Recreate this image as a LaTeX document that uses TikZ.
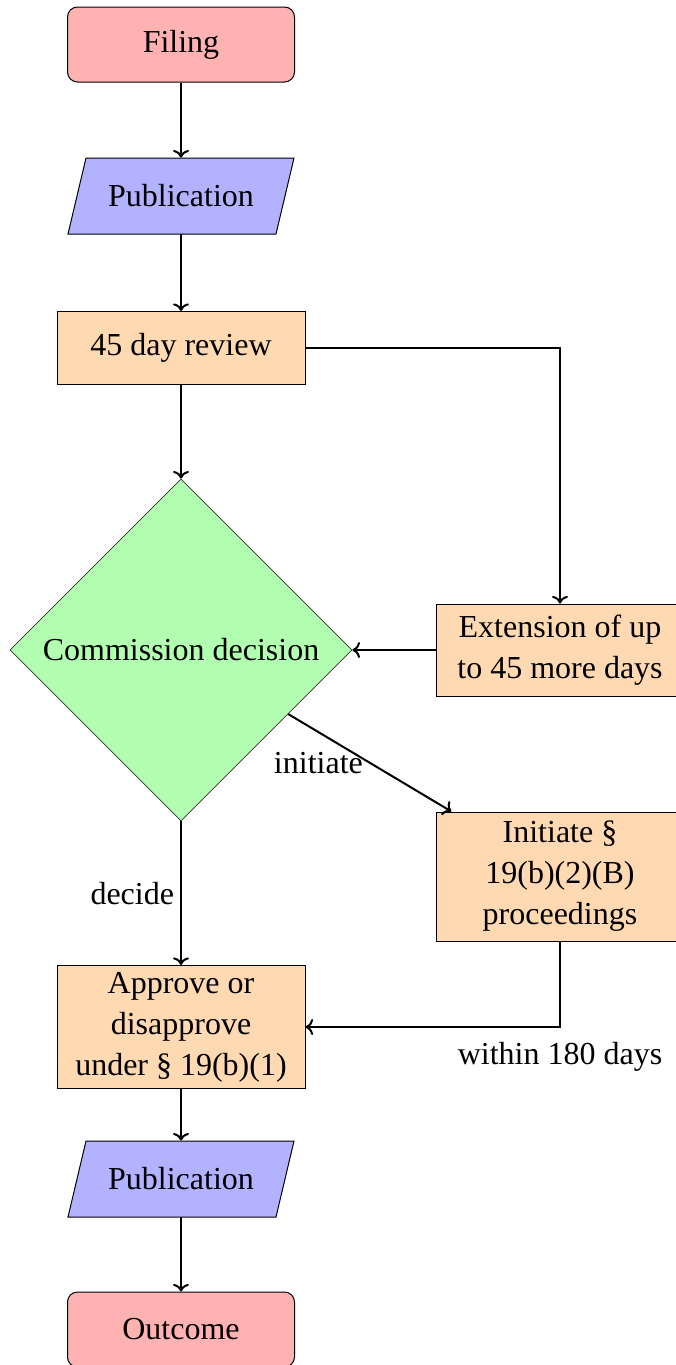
\documentclass[tikz,border=0pt]{standalone}
\usepackage{fontspec}
\setmainfont{Liberation Serif}
\usetikzlibrary{shapes.geometric,arrows.meta}
\begin{document}
\begin{tikzpicture}[x=0.5pt,y=-0.5pt,
  every node/.style={font=\fontsize{16}{20.5}\selectfont},
  term/.style={rectangle,rounded corners=5pt,draw=black,fill=red!30,minimum width=113.5pt,minimum height=37.5pt,inner sep=0pt,line width=0.5pt},
  proc/.style={rectangle,draw=black,fill=orange!30,minimum width=124pt,inner sep=0pt,align=center,line width=0.5pt},
  iotext/.style={rectangle,minimum width=104pt,minimum height=38pt,inner sep=0pt},
  ioshape/.style={draw=black,fill=blue!30,line width=0.5pt},
  decbox/.style={diamond,aspect=1,draw=black!80,fill=green!30,minimum width=171pt,minimum height=171pt,inner sep=0pt,line width=0.4pt},
  flow/.style={->,line width=1pt},
  lbl/.style={inner sep=3pt}]
\useasboundingbox (0,0) rectangle (675,1365);

\node[term] (filing) at (181,44.5) {Filing};
\filldraw[ioshape] (68,234) -- (86,158) -- (294,158) -- (276,234) -- cycle;
\node[iotext] (pub1) at (181,196) {Publication};
\node[proc,minimum height=36.5pt] (review) at (181,348) {45 day review};
\node[decbox] (decision) at (181,650) {Commission decision};
\node[proc,minimum height=46pt] (ext) at (560,650) {Extension of up\\to 45 more days};
\node[proc,minimum height=64.5pt] (init) at (560,876.5) {Initiate §\\19(b)(2)(B)\\proceedings};
\node[proc,minimum height=61.5pt] (approve) at (181,1027) {Approve or\\disapprove\\under § 19(b)(1)};
\filldraw[ioshape] (68,1217) -- (86,1141) -- (294,1141) -- (276,1217) -- cycle;
\node[iotext] (pub2) at (181,1179) {Publication};
\node[term] (outcome) at (181,1329.5) {Outcome};

\draw[flow] (filing) -- (pub1);
\draw[flow] (pub1) -- (review);
\draw[flow] (review) -- (decision);
\draw[flow] (review.east) -| (ext.north);
\draw[flow] (ext.west) -- (decision.east);
\draw[flow] (decision) -- node[lbl,left] {initiate} (init);
\draw[flow] (decision) -- node[lbl,left] {decide} (approve);
\draw[flow] (init.south) |- node[lbl,below,yshift=-4pt] {within 180 days} (approve.east);
\draw[flow] (approve) -- (pub2);
\draw[flow] (pub2) -- (outcome);
\end{tikzpicture}
\end{document}
